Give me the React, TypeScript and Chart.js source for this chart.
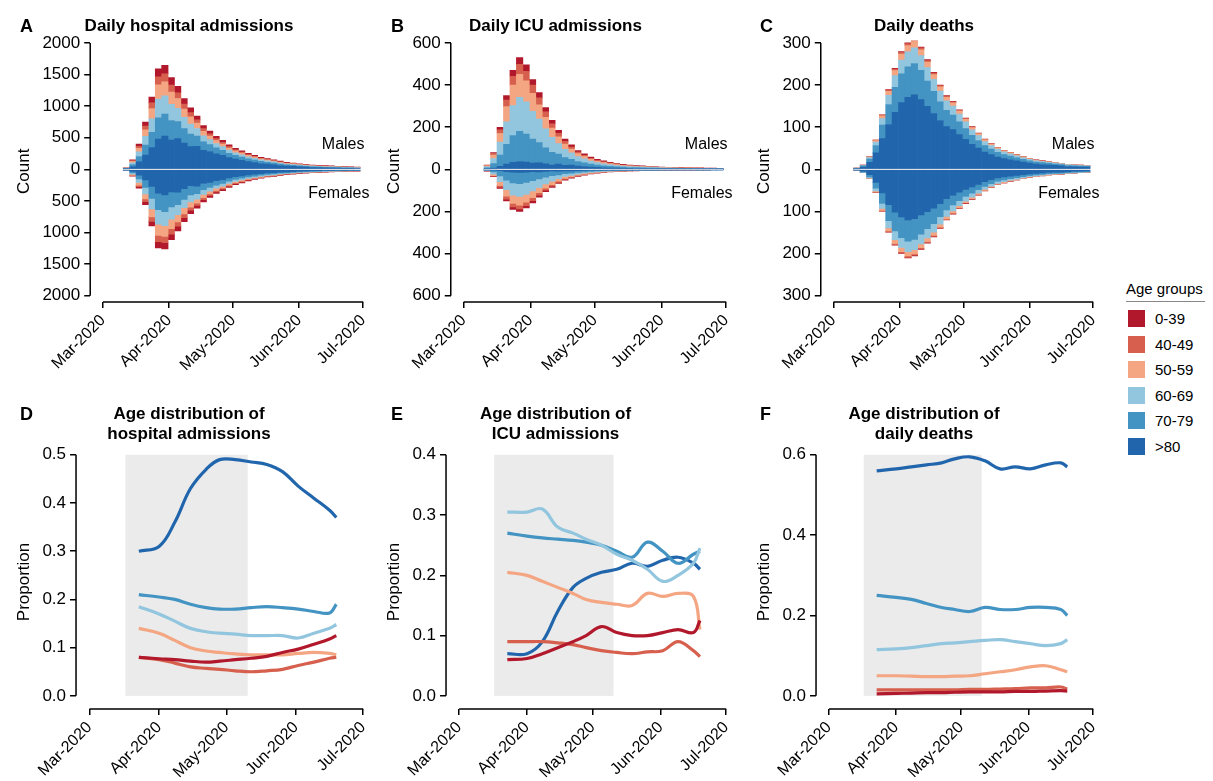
import React, { useEffect, useRef } from 'react';
import { Chart, registerables } from 'chart.js';
Chart.register(...registerables);

const AGE_GROUPS = ['0-39', '40-49', '50-59', '60-69', '70-79', '>80'];
const COLORS = ['#B2182B', '#D6604D', '#F4A582', '#92C5DE', '#4393C3', '#2166AC'];
const MONTH_TICKS = [0, 31, 61, 92, 122];
const MONTH_LABELS = ['Mar-2020', 'Apr-2020', 'May-2020', 'Jun-2020', 'Jul-2020'];
const SHADE = [16, 70.5];

// days since 1 Mar 2020, every 3 days from 12 Mar
const BAR_DAYS = [11,14,17,20,23,26,29,32,35,38,41,44,47,50,53,56,59,62,65,68,71,74,77,80,83,86,89,92,95,98,101,104,107,110,113,116,119];
const HOSP_MALES = [30,150,400,750,1150,1600,1700,1500,1350,1150,1000,850,700,600,520,450,380,330,290,250,220,190,170,150,130,110,100,90,80,70,65,60,55,50,45,40,35];
const HOSP_FEMALES = [20,110,300,560,900,1250,1300,1150,1000,850,720,620,520,440,380,330,280,240,210,180,160,140,120,110,95,85,75,65,60,55,50,45,40,38,35,30,28];
const ICU_MALES = [20,80,200,350,470,530,500,430,360,290,230,180,140,110,85,70,55,45,38,32,27,23,20,18,16,14,12,11,10,9,8,8,7,7,6,6,5];
const ICU_FEMALES = [8,35,90,150,190,200,185,160,130,105,85,65,50,40,32,26,21,17,14,12,10,9,8,7,6,5,5,4,4,4,3,3,3,3,3,2,2];
const DEATH_MALES = [3,10,30,70,130,190,240,280,300,310,290,260,230,200,175,160,140,120,100,85,70,60,52,45,40,35,30,26,22,20,18,16,14,12,11,10,9];
const DEATH_FEMALES = [2,8,22,55,100,150,180,200,210,205,190,175,160,140,120,105,92,80,70,60,50,42,36,32,28,25,22,19,17,15,13,12,11,10,9,8,7];

const LINE_DAYS = [22,31,38,45,52,58,65,72,79,86,93,100,107,110];
// proportions by age group: [0-39, 40-49, 50-59, 60-69, 70-79, >80]
const HOSP_PROP = [
  [.08,.077,.075,.072,.07,.072,.075,.078,.082,.09,.097,.107,.118,.125],
  [.08,.075,.068,.06,.057,.055,.052,.05,.052,.055,.063,.07,.078,.08],
  [.14,.13,.115,.10,.093,.09,.087,.085,.085,.085,.088,.09,.088,.085],
  [.185,.17,.155,.14,.133,.13,.128,.125,.125,.125,.12,.13,.14,.148],
  [.21,.205,.20,.19,.183,.18,.18,.183,.185,.183,.18,.175,.172,.19],
  [.30,.31,.36,.43,.47,.49,.49,.485,.48,.465,.435,.41,.385,.37],
];
const ICU_PROP = [
  [.06,.062,.07,.08,.09,.10,.115,.105,.10,.10,.105,.11,.105,.125],
  [.09,.09,.09,.088,.085,.08,.075,.072,.07,.073,.075,.09,.075,.065],
  [.205,.20,.19,.18,.17,.16,.155,.152,.15,.17,.165,.17,.165,.11],
  [.305,.305,.31,.28,.27,.26,.25,.235,.225,.21,.19,.20,.22,.245],
  [.27,.265,.262,.26,.258,.255,.25,.24,.23,.255,.24,.22,.235,.24],
  [.07,.07,.09,.14,.18,.195,.205,.21,.22,.215,.225,.23,.22,.21],
];
const DEATH_PROP = [
  [.005,.006,.007,.008,.008,.009,.01,.01,.01,.011,.011,.012,.013,.012],
  [.015,.015,.015,.015,.015,.015,.016,.016,.017,.018,.02,.02,.022,.017],
  [.05,.05,.049,.048,.048,.049,.05,.055,.06,.065,.072,.075,.065,.06],
  [.115,.117,.12,.125,.13,.132,.135,.138,.14,.135,.13,.125,.13,.14],
  [.25,.245,.24,.23,.22,.215,.21,.22,.215,.215,.22,.22,.215,.20],
  [.56,.565,.57,.575,.58,.59,.595,.585,.565,.57,.565,.575,.58,.57],
];

const FONT = 'Liberation Sans, Arial, sans-serif';

function nearestIdx(d: number) {
  let best = 0;
  LINE_DAYS.forEach((ld, i) => { if (Math.abs(ld - d) < Math.abs(LINE_DAYS[best] - d)) best = i; });
  return best;
}

function setTicks(vals: number[]) {
  return (scale: any) => { scale.ticks = vals.map((v) => ({ value: v })); };
}

const axisPlugin = (yTicks: number[], opts: { zero?: boolean; labels?: boolean; shade?: boolean }) => ({
  id: 'customAxis',
  beforeDatasetsDraw(chart: any) {
    if (!opts.shade) return;
    const { ctx, scales } = chart;
    ctx.save();
    ctx.fillStyle = '#EBEBEB';
    const x0 = scales.x.getPixelForValue(SHADE[0]);
    const x1 = scales.x.getPixelForValue(SHADE[1]);
    const y0 = scales.y.getPixelForValue(yTicks[yTicks.length - 1]);
    const y1 = scales.y.getPixelForValue(0);
    ctx.fillRect(x0, y0, x1 - x0, y1 - y0);
    ctx.restore();
  },
  afterDraw(chart: any) {
    const { ctx, chartArea, scales } = chart;
    ctx.save();
    ctx.strokeStyle = '#000';
    ctx.lineWidth = 1.5;
    ctx.beginPath();
    ctx.moveTo(chartArea.left, scales.y.getPixelForValue(yTicks[0]));
    ctx.lineTo(chartArea.left, scales.y.getPixelForValue(yTicks[yTicks.length - 1]));
    ctx.moveTo(scales.x.getPixelForValue(0), chartArea.bottom);
    ctx.lineTo(scales.x.getPixelForValue(122), chartArea.bottom);
    ctx.stroke();
    if (opts.zero) {
      ctx.strokeStyle = 'rgba(230,230,230,0.9)';
      ctx.lineWidth = 1;
      const zy = scales.y.getPixelForValue(0);
      ctx.beginPath();
      ctx.moveTo(scales.x.getPixelForValue(BAR_DAYS[0] - 1.5), zy);
      ctx.lineTo(scales.x.getPixelForValue(BAR_DAYS[BAR_DAYS.length - 1] + 1.5), zy);
      ctx.stroke();
    }
    if (opts.labels) {
      const zy = scales.y.getPixelForValue(0);
      ctx.fillStyle = '#000';
      ctx.font = `16px ${FONT}`;
      ctx.textAlign = 'right';
      ctx.textBaseline = 'middle';
      ctx.fillText('Males', chartArea.right - 3, zy - 25);
      ctx.fillText('Females', chartArea.right + 2, zy + 24);
    }
    ctx.restore();
  },
});

function xScale() {
  return {
    type: 'linear',
    min: -6,
    max: 124,
    offset: false,
    afterBuildTicks: setTicks(MONTH_TICKS),
    grid: { display: true, drawOnChartArea: false, drawTicks: true, tickLength: 6, color: '#000', lineWidth: 1.5, offset: false },
    border: { display: false },
    ticks: {
      autoSkip: false, minRotation: 45, maxRotation: 45, color: '#000', font: { size: 16, family: FONT },
      callback: (v: number) => MONTH_LABELS[MONTH_TICKS.indexOf(v)] ?? '',
    },
  };
}

function yScale(min: number, max: number, ticks: number[], title: string, fmt: (v: number) => string, stacked: boolean) {
  return {
    type: 'linear', min, max, stacked,
    afterBuildTicks: setTicks(ticks),
    grid: { display: true, drawOnChartArea: false, drawTicks: true, tickLength: 6, color: '#000', lineWidth: 1.5 },
    border: { display: false },
    ticks: { color: '#000', font: { size: 17, family: FONT }, callback: fmt, padding: 4 },
    title: { display: true, text: title, color: '#000', font: { size: 17, family: FONT }, padding: 4 },
  };
}

function BarPanel({ title, males, females, props, yMax, step, style }: any) {
  const ref = useRef<HTMLCanvasElement>(null);
  useEffect(() => {
    const datasets: any[] = [];
    for (let g = 5; g >= 0; g--) {
      datasets.push({
        label: AGE_GROUPS[g] + ' M', backgroundColor: COLORS[g],
        data: BAR_DAYS.map((d, i) => ({ x: d, y: males[i] * props[g][nearestIdx(d)] })),
        barPercentage: 1, categoryPercentage: 1, stack: 's',
      });
      datasets.push({
        label: AGE_GROUPS[g] + ' F', backgroundColor: COLORS[g],
        data: BAR_DAYS.map((d, i) => ({ x: d, y: -females[i] * props[g][nearestIdx(d)] })),
        barPercentage: 1, categoryPercentage: 1, stack: 's',
      });
    }
    const ticks: number[] = [];
    for (let v = -yMax; v <= yMax; v += step) ticks.push(v);
    const pad = yMax * 0.02;
    const chart = new Chart(ref.current!, {
      type: 'bar',
      data: { datasets },
      options: {
        animation: false, responsive: false, maintainAspectRatio: false,
        plugins: {
          legend: { display: false }, tooltip: { enabled: false },
          title: { display: true, text: title, color: '#000', font: { size: 17, weight: 'bold', family: FONT }, padding: { top: 4, bottom: 4 } },
        },
        layout: { padding: { right: 12 } },
        scales: {
          x: xScale() as any,
          y: yScale(-yMax - yMax * 0.05, yMax + pad, ticks, 'Count', (v: number) => String(Math.abs(v)), true) as any,
        },
      },
      plugins: [axisPlugin(ticks, { zero: true, labels: true })],
    });
    return () => chart.destroy();
  }, []);
  return <canvas ref={ref} width={style.width} height={style.height} style={{ position: 'absolute', ...style }} />;
}

function LinePanel({ title, props, yMax, step, style }: any) {
  const ref = useRef<HTMLCanvasElement>(null);
  useEffect(() => {
    const datasets: any[] = AGE_GROUPS.map((g, i) => ({
      label: g, borderColor: COLORS[i], borderWidth: 3.2, pointRadius: 0, tension: 0.4,
      data: LINE_DAYS.map((d, j) => ({ x: d, y: props[i][j] })),
    }));
    const ticks: number[] = [];
    for (let v = 0; v <= yMax + 1e-9; v += step) ticks.push(+v.toFixed(2));
    const chart = new Chart(ref.current!, {
      type: 'line',
      data: { datasets },
      options: {
        animation: false, responsive: false, maintainAspectRatio: false,
        plugins: {
          legend: { display: false }, tooltip: { enabled: false },
          title: { display: true, text: title, color: '#000', font: { size: 17, weight: 'bold', family: FONT }, padding: { top: 4, bottom: 10 }, lineHeight: 1.25 } as any,
        },
        layout: { padding: { right: 12 } },
        scales: {
          x: xScale() as any,
          y: yScale(-yMax * 0.055, yMax * 1.0, ticks, 'Proportion', (v: number) => v.toFixed(1), false) as any,
        },
      },
      plugins: [axisPlugin(ticks, { shade: true })],
    });
    return () => chart.destroy();
  }, []);
  return <canvas ref={ref} width={style.width} height={style.height} style={{ position: 'absolute', ...style }} />;
}

const letter = (t: string, left: number, top: number) => (
  <div style={{ position: 'absolute', left, top, fontFamily: FONT, fontWeight: 'bold', fontSize: 18 }}>{t}</div>
);

export default function App() {
  return (
    <div style={{ position: 'relative', width: 1213, height: 781, background: '#fff' }}>
      <BarPanel title="Daily hospital admissions" males={HOSP_MALES} females={HOSP_FEMALES} props={HOSP_PROP} yMax={2000} step={500}
        style={{ left: 2, top: 4, width: 370, height: 366 }} />
      <BarPanel title="Daily ICU admissions" males={ICU_MALES} females={ICU_FEMALES} props={ICU_PROP} yMax={600} step={200}
        style={{ left: 372, top: 4, width: 363, height: 366 }} />
      <BarPanel title="Daily deaths" males={DEATH_MALES} females={DEATH_FEMALES} props={DEATH_PROP} yMax={300} step={100}
        style={{ left: 742, top: 4, width: 360, height: 366 }} />
      <LinePanel title={['Age distribution of', 'hospital admissions']} props={HOSP_PROP} yMax={0.5} step={0.1}
        style={{ left: 2, top: 392, width: 370, height: 385 }} />
      <LinePanel title={['Age distribution of', 'ICU admissions']} props={ICU_PROP} yMax={0.4} step={0.1}
        style={{ left: 372, top: 392, width: 363, height: 385 }} />
      <LinePanel title={['Age distribution of', 'daily deaths']} props={DEATH_PROP} yMax={0.6} step={0.2}
        style={{ left: 742, top: 392, width: 360, height: 385 }} />
      {letter('A', 12, 8)}{letter('B', 383, 8)}{letter('C', 752, 8)}
      {letter('D', 12, 396)}{letter('E', 383, 396)}{letter('F', 752, 396)}
      <div style={{ position: 'absolute', left: 1118, top: 272, fontFamily: FONT, fontSize: 15 }}>
        <div style={{ borderBottom: '1px solid #888', paddingBottom: 4, width: 92, marginBottom: 4 }}>Age groups</div>
        {AGE_GROUPS.map((g, i) => (
          <div key={g} style={{ display: 'flex', alignItems: 'center', height: 25.5 }}>
            <div style={{ width: 17, height: 17, background: COLORS[i], marginLeft: 2, marginRight: 10 }} />
            <span>{g}</span>
          </div>
        ))}
      </div>
    </div>
  );
}
